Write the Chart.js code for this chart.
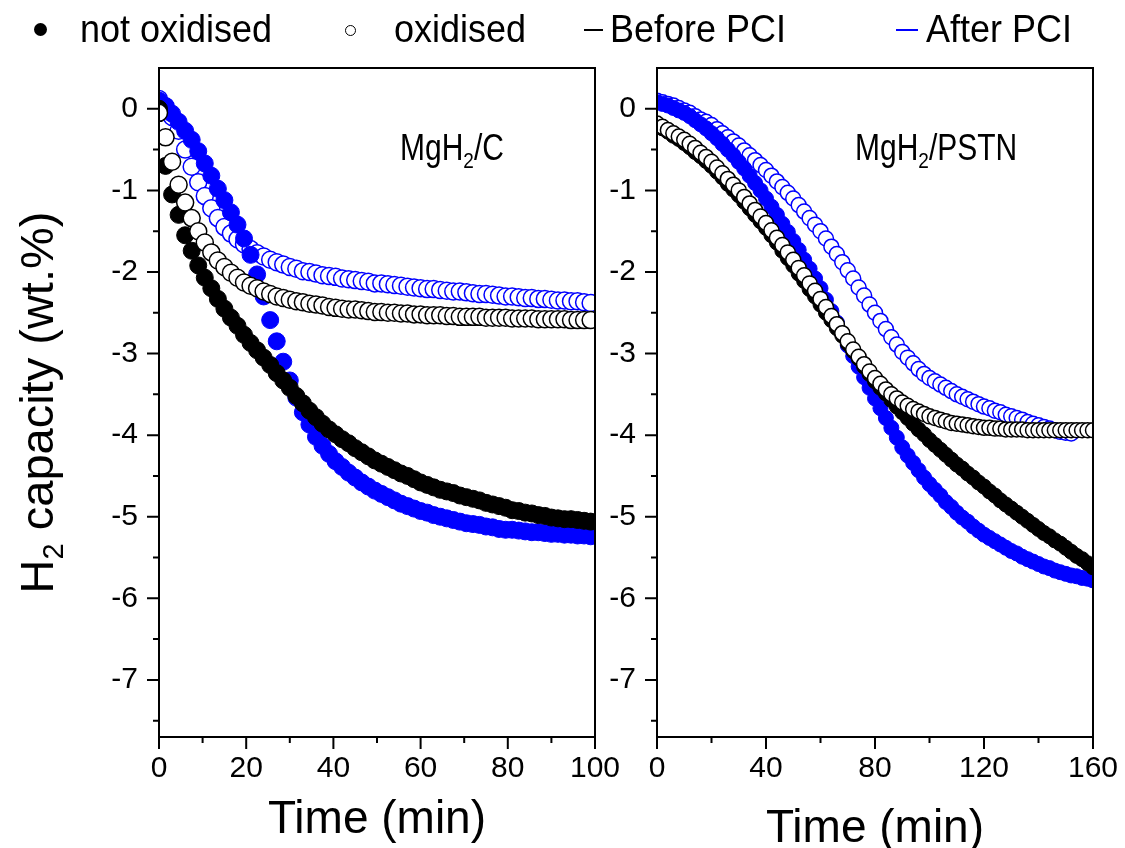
<!DOCTYPE html>
<html>
<head>
<meta charset="utf-8">
<script src="https://cdn.jsdelivr.net/npm/chart.js@4.4.1/dist/chart.umd.min.js"></script>
<style>
  body { margin: 0; background: #fff; width: 1125px; height: 848px; overflow: hidden; position: relative; font-family: 'Liberation Sans', Arial, sans-serif; }
  canvas { position: absolute; top: 0; }
  #leftChart { left: 0; }
  #rightChart { left: 598px; }
  .lg { position: absolute; top: 10px; font-size: 36px; line-height: 40px; color: #000; white-space: nowrap; transform: scaleY(1.1); transform-origin: 0 30px; }
  .mk { position: absolute; box-sizing: border-box; }
</style>
</head>
<body>
<canvas id="leftChart" width="625" height="848"></canvas>
<canvas id="rightChart" width="527" height="848"></canvas>

<!-- legend -->
<div class="mk" style="left:34px;top:23px;width:13px;height:13px;border-radius:50%;background:#000"></div>
<div class="lg" style="left:80px">not oxidised</div>
<div class="mk" style="left:345px;top:25px;width:11px;height:11px;border-radius:50%;border:1.5px solid #000;background:#fff"></div>
<div class="lg" style="left:394px">oxidised</div>
<div class="mk" style="left:584px;top:29px;width:19px;height:2px;background:#000"></div>
<div class="lg" style="left:610px">Before PCI</div>
<div class="mk" style="left:896px;top:29px;width:22px;height:2px;background:#0000ff"></div>
<div class="lg" style="left:926px">After PCI</div>

<script>
/* ---- panel 1: MgH2/C ---- */
var leftTime = [0,1.5,3,4.5,6,7.5,9,10.5,12,13.5,
    15,16.5,18,19.5,21,22.5,24,25.5,27,28.5,
    30,31.5,33,34.5,36,37.5,39,40.5,42,43.5,
    45,46.5,48,49.5,51,52.5,54,55.5,57,58.5,
    60,61.5,63,64.5,66,67.5,69,70.5,72,73.5,
    75,76.5,78,79.5,81,82.5,84,85.5,87,88.5,
    90,91.5,93,94.5,96,97.5,99];
var leftNotOxBefore = [0,-0.7,-1.05,-1.3,-1.55,-1.74,-1.92,-2.07,-2.2,-2.33,
    -2.45,-2.56,-2.66,-2.77,-2.87,-2.96,-3.05,-3.14,-3.24,-3.33,
    -3.42,-3.52,-3.61,-3.7,-3.78,-3.86,-3.93,-3.99,-4.05,-4.1,
    -4.16,-4.21,-4.26,-4.31,-4.35,-4.39,-4.43,-4.47,-4.5,-4.54,
    -4.58,-4.61,-4.64,-4.67,-4.69,-4.71,-4.74,-4.76,-4.78,-4.8,
    -4.83,-4.85,-4.87,-4.89,-4.92,-4.93,-4.95,-4.96,-4.98,-4.99,
    -5.01,-5.02,-5.03,-5.03,-5.04,-5.05,-5.06];
var leftOxBefore = [-0.05,-0.35,-0.65,-0.93,-1.15,-1.34,-1.5,-1.64,-1.76,-1.86,
    -1.94,-2.01,-2.07,-2.13,-2.17,-2.2,-2.24,-2.27,-2.3,-2.32,
    -2.34,-2.36,-2.37,-2.39,-2.4,-2.41,-2.43,-2.44,-2.45,-2.46,
    -2.46,-2.47,-2.48,-2.49,-2.49,-2.5,-2.5,-2.51,-2.51,-2.52,
    -2.52,-2.53,-2.53,-2.53,-2.54,-2.54,-2.55,-2.55,-2.55,-2.55,
    -2.56,-2.56,-2.56,-2.56,-2.57,-2.57,-2.57,-2.57,-2.58,-2.58,
    -2.58,-2.58,-2.58,-2.59,-2.59,-2.59,-2.59];
var leftNotOxAfter = [0.1,0.03,-0.06,-0.16,-0.27,-0.38,-0.52,-0.67,-0.82,-0.98,
    -1.12,-1.27,-1.42,-1.59,-1.79,-2.03,-2.3,-2.59,-2.85,-3.1,
    -3.33,-3.54,-3.72,-3.87,-4.02,-4.13,-4.23,-4.32,-4.39,-4.46,
    -4.52,-4.58,-4.63,-4.68,-4.72,-4.76,-4.8,-4.84,-4.87,-4.9,
    -4.93,-4.95,-4.98,-5.0,-5.02,-5.04,-5.06,-5.08,-5.09,-5.1,
    -5.12,-5.13,-5.15,-5.16,-5.16,-5.17,-5.18,-5.19,-5.19,-5.2,
    -5.21,-5.21,-5.22,-5.22,-5.23,-5.23,-5.24];
var leftOxAfter = [0.12,0.03,-0.1,-0.27,-0.5,-0.71,-0.9,-1.07,-1.22,-1.34,
    -1.45,-1.53,-1.6,-1.66,-1.72,-1.77,-1.81,-1.85,-1.88,-1.91,
    -1.94,-1.96,-1.99,-2.0,-2.02,-2.04,-2.05,-2.06,-2.08,-2.09,
    -2.1,-2.11,-2.12,-2.14,-2.14,-2.15,-2.16,-2.17,-2.18,-2.19,
    -2.2,-2.21,-2.21,-2.22,-2.23,-2.24,-2.24,-2.25,-2.26,-2.27,
    -2.27,-2.28,-2.29,-2.3,-2.3,-2.31,-2.32,-2.32,-2.33,-2.33,
    -2.34,-2.35,-2.35,-2.36,-2.36,-2.37,-2.38];

/* ---- panel 2: MgH2/PSTN ---- */
var rightTime = [0,2,4,6,8,10,12,14,16,18,20,22,24,26,28,30,32,34,36,38,40,42,44,46,48,50,52,54,56,58,
    60,62,64,66,68,70,72,74,76,78,80,82,84,86,88,90,92,94,96,98,100,102,104,106,108,110,112,114,116,118,
    120,122,124,126,128,130,132,134,136,138,140,142,144,146,148,150,152,154,156,158,160];
var rightNotOxBefore = [-0.2,-0.24,-0.28,-0.33,-0.37,-0.42,-0.47,-0.53,-0.58,-0.64,-0.7,-0.77,-0.84,-0.92,
    -0.99,-1.06,-1.14,-1.22,-1.3,-1.38,-1.46,-1.55,-1.64,-1.74,-1.83,-1.92,-2.02,-2.11,-2.21,-2.3,-2.4,-2.5,
    -2.59,-2.69,-2.78,-2.88,-2.97,-3.06,-3.16,-3.25,-3.34,-3.42,-3.49,-3.57,-3.65,-3.72,-3.79,-3.86,-3.93,
    -3.99,-4.06,-4.12,-4.18,-4.24,-4.3,-4.36,-4.41,-4.47,-4.52,-4.58,-4.63,-4.69,-4.74,-4.8,-4.85,-4.9,-4.95,
    -5.0,-5.05,-5.1,-5.15,-5.2,-5.24,-5.29,-5.33,-5.38,-5.43,-5.48,-5.52,-5.57,-5.62];
var rightOxBefore = [-0.18,-0.22,-0.26,-0.3,-0.34,-0.38,-0.43,-0.48,-0.54,-0.59,-0.65,-0.72,-0.79,-0.86,
    -0.93,-1.0,-1.08,-1.16,-1.24,-1.32,-1.4,-1.49,-1.58,-1.67,-1.76,-1.85,-1.95,-2.04,-2.14,-2.23,-2.33,-2.43,
    -2.54,-2.64,-2.75,-2.85,-2.95,-3.04,-3.13,-3.22,-3.3,-3.37,-3.44,-3.5,-3.55,-3.6,-3.64,-3.68,-3.71,-3.74,
    -3.77,-3.79,-3.81,-3.83,-3.85,-3.86,-3.87,-3.88,-3.89,-3.9,-3.91,-3.91,-3.92,-3.92,-3.93,-3.93,-3.93,
    -3.93,-3.94,-3.94,-3.94,-3.94,-3.94,-3.94,-3.94,-3.94,-3.94,-3.94,-3.94,-3.94,-3.94];
var rightNotOxAfter = [0.08,0.06,0.04,0.01,-0.02,-0.05,-0.09,-0.14,-0.19,-0.24,-0.3,-0.36,-0.43,-0.5,-0.57,
    -0.65,-0.73,-0.82,-0.91,-1.0,-1.1,-1.2,-1.3,-1.41,-1.51,-1.62,-1.73,-1.85,-1.96,-2.08,-2.2,-2.34,-2.48,
    -2.62,-2.76,-2.9,-3.03,-3.16,-3.29,-3.42,-3.55,-3.67,-3.79,-3.91,-4.03,-4.15,-4.25,-4.34,-4.43,-4.52,-4.6,
    -4.67,-4.74,-4.82,-4.88,-4.95,-5.01,-5.06,-5.12,-5.17,-5.22,-5.26,-5.3,-5.34,-5.38,-5.42,-5.45,-5.49,
    -5.52,-5.55,-5.58,-5.61,-5.63,-5.66,-5.68,-5.7,-5.72,-5.73,-5.75,-5.76,-5.78];
var rightOxAfter = [0.1,0.08,0.06,0.04,0.01,-0.02,-0.05,-0.09,-0.13,-0.16,-0.2,-0.25,-0.3,-0.35,-0.4,-0.45,
    -0.51,-0.57,-0.63,-0.69,-0.75,-0.82,-0.89,-0.96,-1.03,-1.1,-1.18,-1.26,-1.34,-1.42,-1.5,-1.59,-1.69,-1.78,
    -1.88,-1.98,-2.08,-2.19,-2.29,-2.4,-2.5,-2.6,-2.7,-2.8,-2.89,-2.98,-3.05,-3.12,-3.19,-3.25,-3.3,-3.34,
    -3.38,-3.42,-3.46,-3.5,-3.53,-3.56,-3.59,-3.62,-3.65,-3.67,-3.7,-3.72,-3.75,-3.77,-3.79,-3.81,-3.84,-3.86,
    -3.88,-3.9,-3.92,-3.94,-3.96,-3.97,-3.98];

/* ticks */
var leftXTicks = [0,20,40,60,80,100];
var leftXMinor = [10,30,50,70,90];
var rightXTicks = [0,40,80,120,160];
var rightXMinor = [20,60,100,140];
var yTicks = [-7,-6,-5,-4,-3,-2,-1,0];
var yMinor = [-7.5,-6.5,-5.5,-4.5,-3.5,-2.5,-1.5,-0.5];

var FONT = "'Liberation Sans', Arial, sans-serif";
var BLUE = '#0000ff';

function toPoints(xs, ys) {
    var pts = [];
    for (var i = 0; i < ys.length; i++) pts.push({x: xs[i], y: ys[i]});
    return pts;
}

// text with subscript parts: [['MgH'],['2',true],['/C']]
function richWidth(ctx, parts, size) {
    var w = 0;
    parts.forEach(function (p) {
        ctx.font = (p[1] ? Math.round(size * 0.62) : size) + 'px ' + FONT;
        w += ctx.measureText(p[0]).width;
    });
    return w;
}
function drawRich(ctx, parts, x, y, size) {
    parts.forEach(function (p) {
        ctx.font = (p[1] ? Math.round(size * 0.62) : size) + 'px ' + FONT;
        ctx.fillText(p[0], x, p[1] ? y + size * 0.22 : y);
        x += ctx.measureText(p[0]).width;
    });
}

// frame, outward ticks (major + minor) and the extra texts
var framePlugin = {
    id: 'frame',
    afterDraw: function (chart, args, opts) {
        var ctx = chart.ctx, a = chart.chartArea;
        var xs = chart.scales.x, ys = chart.scales.y;
        ctx.save();
        ctx.strokeStyle = '#000';
        ctx.lineWidth = 2;
        ctx.strokeRect(a.left, a.top, a.right - a.left, a.bottom - a.top);
        ctx.beginPath();
        opts.xMajor.forEach(function (v) {
            var p = xs.getPixelForValue(v);
            ctx.moveTo(p, a.bottom); ctx.lineTo(p, a.bottom + 12);
        });
        opts.xMinor.forEach(function (v) {
            var p = xs.getPixelForValue(v);
            ctx.moveTo(p, a.bottom); ctx.lineTo(p, a.bottom + 6);
        });
        yTicks.forEach(function (v) {
            var p = ys.getPixelForValue(v);
            ctx.moveTo(a.left, p); ctx.lineTo(a.left - 12, p);
        });
        yMinor.forEach(function (v) {
            var p = ys.getPixelForValue(v);
            ctx.moveTo(a.left, p); ctx.lineTo(a.left - 6, p);
        });
        ctx.stroke();

        ctx.fillStyle = '#000';
        ctx.textBaseline = 'alphabetic';
        ctx.textAlign = 'left';
        // sample label, slightly tall like the original
        ctx.save();
        ctx.translate(opts.labelX, 160);
        ctx.scale(1, 1.2);
        drawRich(ctx, opts.label, 0, 0, 30);
        ctx.restore();
        // x title
        ctx.font = '46px ' + FONT;
        ctx.textAlign = 'center';
        ctx.fillText('Time (min)', (a.left + a.right) / 2, opts.titleY);
        // y title (left panel only)
        if (opts.yTitle) {
            var parts = [['H'], ['2', true], [' capacity (wt.%)']];
            ctx.textAlign = 'left';
            var w = richWidth(ctx, parts, 47);
            ctx.translate(53, (a.top + a.bottom) / 2);
            ctx.rotate(-Math.PI / 2);
            drawRich(ctx, parts, -w / 2, 0, 47);
        }
        ctx.restore();
    }
};

function makeDatasets(time, nb, ob, na, oa, r) {
    // first dataset ends up on top
    return [
        { label: 'oxidised, Before PCI', data: toPoints(time, ob), pointRadius: r,
          pointBackgroundColor: '#fff', pointBorderColor: '#000', pointBorderWidth: 1.5 },
        { label: 'not oxidised, Before PCI', data: toPoints(time, nb), pointRadius: r,
          pointBackgroundColor: '#000', pointBorderColor: '#000', pointBorderWidth: 1 },
        { label: 'not oxidised, After PCI', data: toPoints(time, na), pointRadius: r,
          pointBackgroundColor: BLUE, pointBorderColor: BLUE, pointBorderWidth: 1 },
        { label: 'oxidised, After PCI', data: toPoints(time, oa), pointRadius: r,
          pointBackgroundColor: '#fff', pointBorderColor: BLUE, pointBorderWidth: 1.5 }
    ];
}

function makeOptions(xMax, xTicks, yWidth, padRight, frameOpts) {
    return {
        responsive: false,
        animation: false,
        events: [],
        layout: { padding: { left: 0, right: padRight, top: 68, bottom: 0 } },
        plugins: { legend: { display: false }, tooltip: { enabled: false }, frame: frameOpts },
        elements: { point: { hoverRadius: 0 } },
        scales: {
            x: {
                type: 'linear', min: 0, max: xMax,
                afterBuildTicks: function (s) { s.ticks = xTicks.map(function (v) { return {value: v}; }); },
                afterFit: function (s) { s.height = 111; s.paddingLeft = 0; s.paddingRight = 0; },
                grid: { display: false, drawTicks: false },
                border: { display: false },
                ticks: { padding: 14, color: '#000', autoSkip: false, maxRotation: 0,
                         font: { family: FONT, size: 30 } }
            },
            y: {
                type: 'linear', min: -7.7, max: 0.5,
                afterBuildTicks: function (s) { s.ticks = yTicks.map(function (v) { return {value: v}; }); },
                afterFit: function (s) { s.width = yWidth; s.paddingTop = 0; s.paddingBottom = 0; },
                grid: { display: false, drawTicks: false },
                border: { display: false },
                ticks: { padding: 21, color: '#000', font: { family: FONT, size: 30 } }
            }
        }
    };
}

new Chart(document.getElementById('leftChart'), {
    type: 'scatter',
    data: { datasets: makeDatasets(leftTime, leftNotOxBefore, leftOxBefore, leftNotOxAfter, leftOxAfter, 8.5) },
    options: makeOptions(100, leftXTicks, 159, 30, {
        xMajor: leftXTicks, xMinor: leftXMinor,
        label: [['MgH'], ['2', true], ['/C']], labelX: 400, titleY: 833, yTitle: true
    }),
    plugins: [framePlugin]
});

new Chart(document.getElementById('rightChart'), {
    type: 'scatter',
    data: { datasets: makeDatasets(rightTime, rightNotOxBefore, rightOxBefore, rightNotOxAfter, rightOxAfter, 7.5) },
    options: makeOptions(160, rightXTicks, 59, 32, {
        xMajor: rightXTicks, xMinor: rightXMinor,
        label: [['MgH'], ['2', true], ['/PSTN']], labelX: 855 - 598, titleY: 842, yTitle: false
    }),
    plugins: [framePlugin]
});
</script>
</body>
</html>
